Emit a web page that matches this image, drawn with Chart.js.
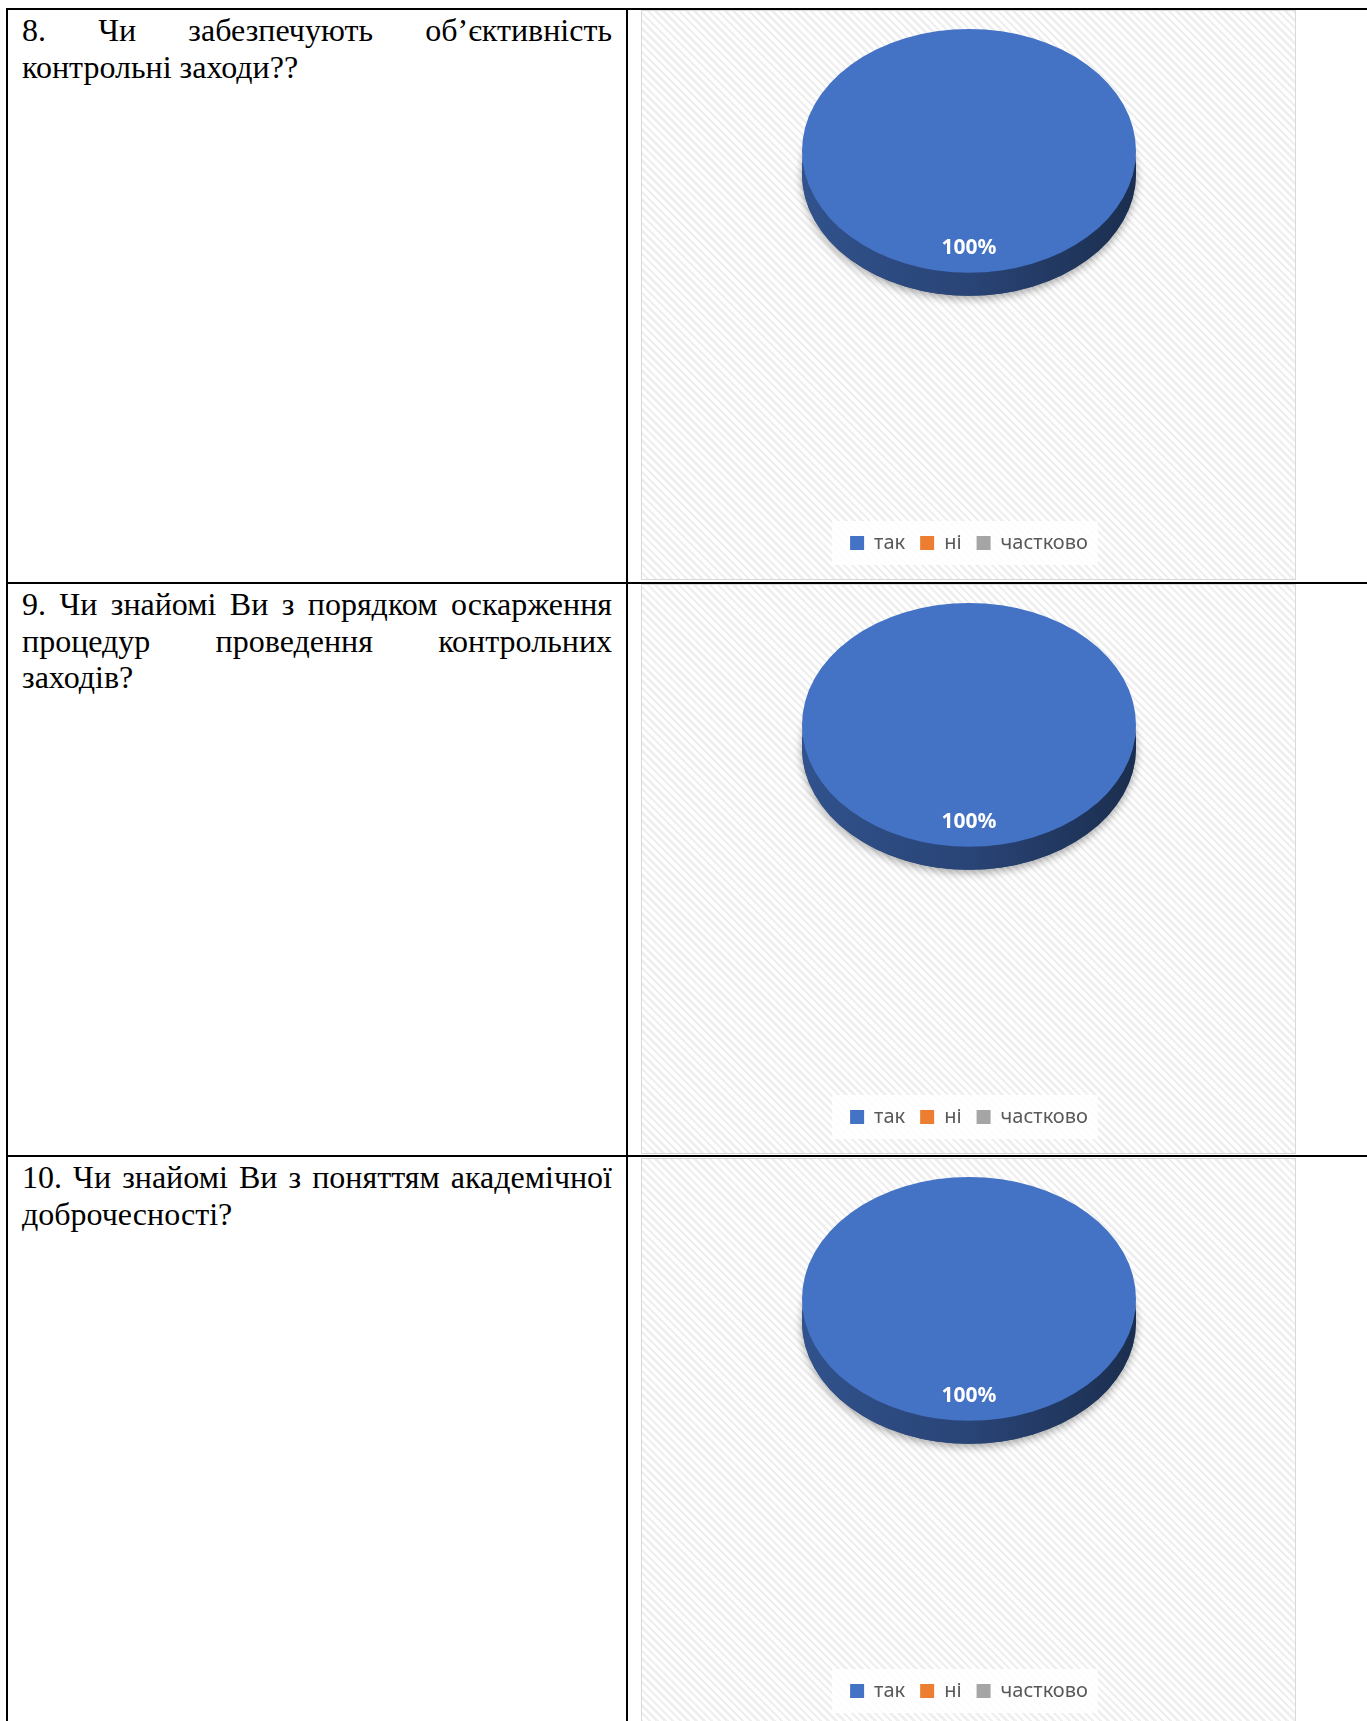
<!DOCTYPE html>
<html>
<head>
<meta charset="utf-8">
<script src="https://cdn.jsdelivr.net/npm/chart.js@4.4.1/dist/chart.umd.min.js"></script>
<style>
    html, body { margin: 0; padding: 0; background: #fff; }
    body { width: 1367px; height: 1721px; position: relative; overflow: hidden; }
    .hline { position: absolute; left: 6px; right: 0; height: 2px; background: #000; }
    .vline { position: absolute; top: 8px; bottom: 0; width: 2px; background: #000; }
    .question {
        position: absolute; left: 22px; width: 590px;
        font-family: "Liberation Serif", "Times New Roman", serif;
        font-size: 32px; line-height: 36.5px; color: #000;
    }
    .question div { white-space: nowrap; }
    .question .just { text-align: justify; text-align-last: justify; white-space: normal; }
    .chartBox {
        position: absolute; left: 641px; width: 653px; height: 568px;
        border: 1px solid #d9d9d9;
        background: repeating-linear-gradient(45deg, #ffffff 0px, #ffffff 3px, #efefef 3px, #efefef 5.5px);
    }
</style>
</head>
<body>
<div class="hline" style="top:8px"></div>
<div class="hline" style="top:582px"></div>
<div class="hline" style="top:1155px"></div>
<div class="vline" style="left:6px"></div>
<div class="vline" style="left:626px"></div>

<div class="question" id="q1" style="top:12px"></div>
<div class="question" id="q2" style="top:586px"></div>
<div class="question" id="q3" style="top:1159px"></div>

<div class="chartBox" style="top:10px"><canvas id="chart1"></canvas></div>
<div class="chartBox" style="top:584px"><canvas id="chart2"></canvas></div>
<div class="chartBox" style="top:1158px"><canvas id="chart3"></canvas></div>

<script>
// answer categories and colours (same for all three questions)
const categories = ["так", "ні", "частково"];
const colors = ["#4472C4", "#ED7D31", "#A5A5A5"];

// share of answers, %
const values8 = [100, 0, 0];
const values9 = [100, 0, 0];
const values10 = [100, 0, 0];

// question text, one entry per printed line
const question8 = ["8. Чи забезпечують об’єктивність", "контрольні заходи??"];
const question9 = ["9. Чи знайомі Ви з порядком оскарження", "процедур проведення контрольних", "заходів?"];
const question10 = ["10. Чи знайомі Ви з поняттям академічної", "доброчесності?"];

function fillQuestion(id, lines) {
    const box = document.getElementById(id);
    lines.forEach((line, i) => {
        const d = document.createElement("div");
        d.textContent = line;
        if (i < lines.length - 1) d.className = "just";
        box.appendChild(d);
    });
}
fillQuestion("q1", question8);
fillQuestion("q2", question9);
fillQuestion("q3", question10);

function darken(hex, f) {
    const n = parseInt(hex.slice(1), 16);
    const r = Math.round(((n >> 16) & 255) * f);
    const g = Math.round(((n >> 8) & 255) * f);
    const b = Math.round((n & 255) * f);
    return "rgb(" + r + "," + g + "," + b + ")";
}

// squashes the pie into an ellipse and adds the 3D side wall
const pie3d = {
    id: "pie3d",
    beforeDraw(chart) {
        // white plate behind the legend
        const boxes = chart.legend.legendHitBoxes;
        if (!boxes || !boxes.length) return;
        const ctx = chart.ctx;
        const x0 = Math.min(...boxes.map(b => b.left)) - 18;
        const x1 = Math.max(...boxes.map(b => b.left + b.width)) + 10;
        const y0 = Math.min(...boxes.map(b => b.top)) - 12;
        const y1 = Math.max(...boxes.map(b => b.top + b.height)) + 12;
        ctx.save();
        ctx.fillStyle = "rgba(255,255,255,0.85)";
        ctx.fillRect(x0, y0, x1 - x0, y1 - y0);
        ctx.restore();
    },
    beforeDatasetsDraw(chart, args, opts) {
        const arcs = chart.getDatasetMeta(0).data;
        const ctx = chart.ctx;
        const first = arcs[0];
        const R = first.outerRadius, cx = first.x, cy = first.y;
        const ry = R * opts.ratio;
        const vcy = chart.chartArea.top + ry;
        const depth = opts.depth;
        chart.$pie3d = { R, cx, cy, ry, vcy };

        // shadow under the whole disc
        ctx.save();
        ctx.shadowColor = "rgba(0,0,0,0.35)";
        ctx.shadowBlur = 9;
        ctx.shadowOffsetY = 3;
        ctx.fillStyle = "#22406f";
        ctx.beginPath();
        ctx.ellipse(cx, vcy + depth, R, ry, 0, 0, Math.PI * 2);
        ctx.fill();
        ctx.restore();

        // side wall of every slice on the front half
        arcs.forEach((arc, i) => {
            const a0 = arc.startAngle, a1 = arc.endAngle;
            if (a1 - a0 <= 0) return;
            [-2 * Math.PI, 0, 2 * Math.PI].forEach(k => {
                const lo = Math.max(a0, k), hi = Math.min(a1, k + Math.PI);
                if (hi <= lo) return;
                const g = ctx.createLinearGradient(cx - R, 0, cx + R, 0);
                g.addColorStop(0, darken(colors[i], 0.72));
                g.addColorStop(0.5, darken(colors[i], 0.6));
                g.addColorStop(1, darken(colors[i], 0.4));
                ctx.save();
                ctx.fillStyle = g;
                ctx.beginPath();
                ctx.ellipse(cx, vcy, R, ry, 0, lo, hi);
                ctx.ellipse(cx, vcy + depth, R, ry, 0, hi, lo, true);
                ctx.closePath();
                ctx.fill();
                ctx.restore();
            });
        });

        // top face: squash the circle around its new centre
        ctx.save();
        ctx.translate(0, vcy);
        ctx.scale(1, opts.ratio);
        ctx.translate(0, -cy);
    },
    afterDatasetsDraw(chart, args, opts) {
        const ctx = chart.ctx;
        ctx.restore();
        const p = chart.$pie3d;
        const data = chart.data.datasets[0].data;
        const total = data.reduce((s, v) => s + v, 0);
        ctx.save();
        ctx.fillStyle = "#ffffff";
        ctx.font = "bold 21px 'Noto Sans', sans-serif";
        ctx.textAlign = "center";
        ctx.textBaseline = "middle";
        chart.getDatasetMeta(0).data.forEach((arc, i) => {
            if (!data[i]) return;
            const mid = (arc.startAngle + arc.endAngle) / 2;
            const r = p.R * opts.labelRadius;
            const x = p.cx + Math.cos(mid) * r;
            const y = p.vcy + Math.sin(mid) * r * opts.ratio;
            ctx.fillText(Math.round(data[i] / total * 100) + "%", x, y);
        });
        ctx.restore();
    }
};

function makePie(id, values) {
    const ctx = document.getElementById(id).getContext("2d");
    return new Chart(ctx, {
        type: "pie",
        data: {
            labels: categories,
            datasets: [{
                data: values,
                backgroundColor: colors,
                borderWidth: 0,
                clip: false
            }]
        },
        plugins: [pie3d],
        options: {
            responsive: true,
            maintainAspectRatio: false,
            animation: false,
            events: [],
            layout: { padding: { left: 160, right: 159, top: 18, bottom: 16 } },
            plugins: {
                pie3d: { ratio: 0.73, depth: 23, labelRadius: 0.8 },
                tooltip: { enabled: false },
                legend: {
                    position: "bottom",
                    labels: {
                        boxWidth: 14,
                        boxHeight: 14,
                        padding: 15,
                        color: "#595959",
                        font: { family: "'Noto Sans', sans-serif", size: 20 }
                    }
                }
            }
        }
    });
}

makePie("chart1", values8);
makePie("chart2", values9);
makePie("chart3", values10);
</script>
</body>
</html>
